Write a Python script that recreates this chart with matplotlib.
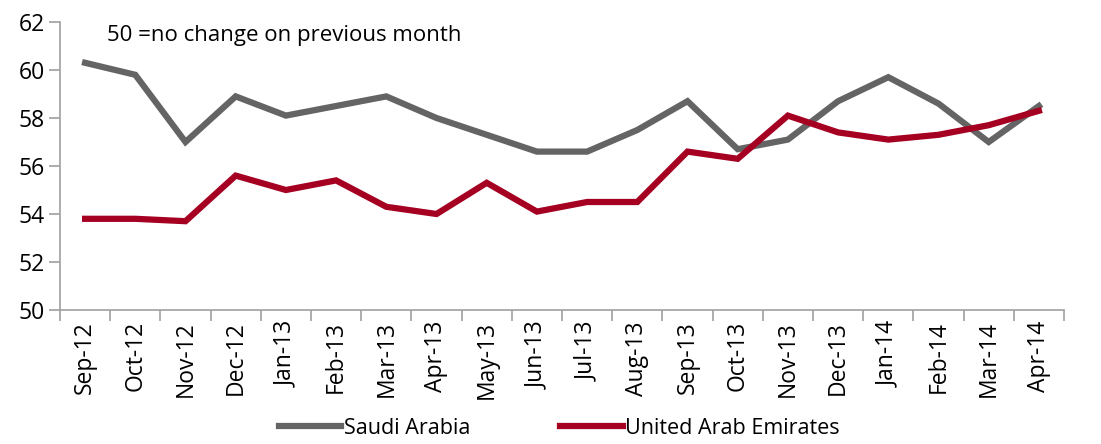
import numpy as np
import matplotlib.pyplot as plt

months = ['Sep-12', 'Oct-12', 'Nov-12', 'Dec-12', 'Jan-13', 'Feb-13', 'Mar-13',
          'Apr-13', 'May-13', 'Jun-13', 'Jul-13', 'Aug-13', 'Sep-13', 'Oct-13',
          'Nov-13', 'Dec-13', 'Jan-14', 'Feb-14', 'Mar-14', 'Apr-14']
saudi = [60.3, 59.8, 57.0, 58.9, 58.1, 58.5, 58.9, 58.0, 57.3, 56.6,
         56.6, 57.5, 58.7, 56.7, 57.1, 58.7, 59.7, 58.6, 57.0, 58.5]
uae = [53.8, 53.8, 53.7, 55.6, 55.0, 55.4, 54.3, 54.0, 55.3, 54.1,
       54.5, 54.5, 56.6, 56.3, 58.1, 57.4, 57.1, 57.3, 57.7, 58.3]


def main():
    plt.rcParams['font.family'] = ['Open Sans', 'DejaVu Sans']
    fig = plt.figure(figsize=(11.01, 4.44), dpi=100)
    ax = fig.add_axes([60 / 1101, 1 - 310 / 444, 1004 / 1101, 288 / 444])

    x = np.arange(len(months))
    ax.plot(x, saudi, color='#646464', lw=4.5, label='Saudi Arabia', solid_joinstyle='miter')
    ax.plot(x, uae, color='#A50021', lw=4.5, label='United Arab Emirates', solid_joinstyle='miter')

    ax.set_xlim(-0.5, len(months) - 0.5)
    ax.set_ylim(50, 62)
    ax.set_yticks(range(50, 63, 2))
    ax.set_xticks(x, months, rotation=90)
    ax.set_xticks(np.arange(-0.5, len(months)), minor=True)
    ax.tick_params(axis='x', which='major', length=0, pad=8, labelsize=16.5)
    ax.tick_params(axis='x', which='minor', length=8, color='#a0a0a0', width=1.2)
    ax.tick_params(axis='y', length=8, color='#a0a0a0', width=1.2, labelsize=16.5, pad=3)

    for s in ['top', 'right']:
        ax.spines[s].set_visible(False)
    for s in ['left', 'bottom']:
        ax.spines[s].set_color('#a0a0a0')
        ax.spines[s].set_linewidth(1.2)

    ax.text(0.047, 0.99, '50 =no change on previous month', transform=ax.transAxes,
            fontsize=16, va='top', ha='left')

    fig.legend(loc='lower center', bbox_to_anchor=(0.508, -0.032), ncol=2, frameon=False,
               fontsize=15.5, handlelength=2.9, handletextpad=0.1, columnspacing=4.2)

    fig.savefig('out.png', dpi=100)


if __name__ == '__main__':
    main()
